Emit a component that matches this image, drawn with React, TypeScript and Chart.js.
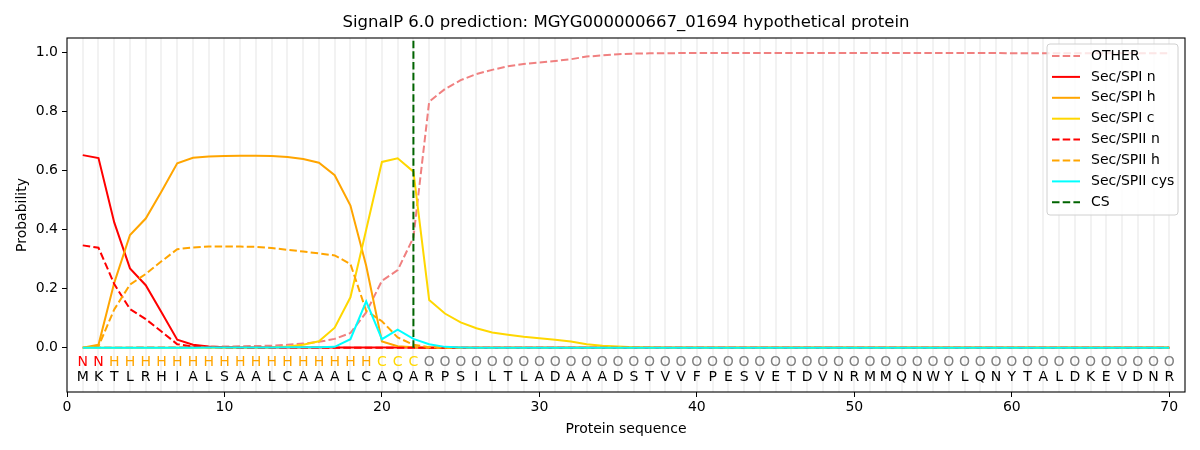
import { useEffect, useRef } from 'react';
import { Chart, registerables } from 'chart.js';

Chart.register(...registerables);

const FONT = '"DejaVu Sans", sans-serif';

const sequence = 'MKTLRHIALSAALCAAALCAQARPSILTLADAAADSTVVFPESVETDVNRMMQNWYLQNYTALDKEVDNR'.split('');
const regionLabels = 'NNHHHHHHHHHHHHHHHHHCCCOOOOOOOOOOOOOOOOOOOOOOOOOOOOOOOOOOOOOOOOOOOOOOOO'.split('');
const positions = sequence.map((_, i) => i + 1);
const xTicks = [0, 10, 20, 30, 40, 50, 60, 70];
const yTicks = [0, 0.2, 0.4, 0.6, 0.8, 1.0];
const cleavageSite = 22;

const otherProb = [
  0.001, 0.001, 0.001, 0.001, 0.002, 0.002, 0.002, 0.003, 0.003, 0.004,
  0.005, 0.006, 0.007, 0.01, 0.014, 0.02, 0.03, 0.05, 0.12, 0.227,
  0.263, 0.374, 0.834, 0.877, 0.907, 0.928, 0.942, 0.954, 0.962, 0.967,
  0.972, 0.978, 0.987, 0.991, 0.995, 0.997, 0.998, 0.998, 0.999, 0.999,
  0.999, 0.999, 0.999, 0.999, 0.999, 0.999, 0.999, 0.999, 0.999, 0.999,
  0.999, 0.999, 0.999, 0.999, 0.999, 0.999, 0.999, 0.999, 0.999, 0.998,
  0.998, 0.998, 0.998, 0.998, 0.998, 0.998, 0.998, 0.998, 0.998, 0.998,
];
const spiN = [
  0.653, 0.643, 0.425, 0.269, 0.212, 0.12, 0.027, 0.01, 0.004, 0.002,
  0.001, 0.001, 0.001, 0.001, 0.001, 0.001, 0.001, 0.001, 0.001, 0.001,
  0.001, 0.001, 0, 0, 0, 0, 0, 0, 0, 0,
  0, 0, 0, 0, 0, 0, 0, 0, 0, 0,
  0, 0, 0, 0, 0, 0, 0, 0, 0, 0,
  0, 0, 0, 0, 0, 0, 0, 0, 0, 0,
  0, 0, 0, 0, 0, 0, 0, 0, 0, 0,
];
const spiH = [
  0, 0.01, 0.22, 0.382, 0.438, 0.53, 0.625, 0.644, 0.648, 0.65,
  0.651, 0.651, 0.65, 0.647, 0.64, 0.627, 0.585, 0.482, 0.278, 0.021,
  0.005, 0.002, 0.001, 0, 0, 0, 0, 0, 0, 0,
  0, 0, 0, 0, 0, 0, 0, 0, 0, 0,
  0, 0, 0, 0, 0, 0, 0, 0, 0, 0,
  0, 0, 0, 0, 0, 0, 0, 0, 0, 0,
  0, 0, 0, 0, 0, 0, 0, 0, 0, 0,
];
const spiC = [
  0, 0, 0, 0, 0, 0, 0, 0, 0, 0,
  0, 0, 0.001, 0.004, 0.01, 0.022, 0.068, 0.171, 0.4, 0.63,
  0.642, 0.597, 0.162, 0.116, 0.086, 0.066, 0.052, 0.044, 0.037, 0.032,
  0.027, 0.021, 0.012, 0.007, 0.004, 0.002, 0.001, 0, 0, 0,
  0, 0, 0, 0, 0, 0, 0, 0, 0, 0,
  0, 0, 0, 0, 0, 0, 0, 0, 0, 0,
  0, 0, 0, 0, 0, 0, 0, 0, 0, 0,
];
const spiiN = [
  0.347, 0.339, 0.216, 0.131, 0.097, 0.055, 0.012, 0.004, 0.002, 0.001,
  0, 0, 0, 0, 0, 0, 0, 0, 0, 0,
  0, 0, 0, 0, 0, 0, 0, 0, 0, 0,
  0, 0, 0, 0, 0, 0, 0, 0, 0, 0,
  0, 0, 0, 0, 0, 0, 0, 0, 0, 0,
  0, 0, 0, 0, 0, 0, 0, 0, 0, 0,
  0, 0, 0, 0, 0, 0, 0, 0, 0, 0,
];
const spiiH = [
  0, 0.005, 0.13, 0.214, 0.25, 0.293, 0.334, 0.34, 0.343, 0.343,
  0.343, 0.342, 0.338, 0.332, 0.326, 0.32, 0.313, 0.284, 0.125, 0.09,
  0.035, 0.01, 0.002, 0, 0, 0, 0, 0, 0, 0,
  0, 0, 0, 0, 0, 0, 0, 0, 0, 0,
  0, 0, 0, 0, 0, 0, 0, 0, 0, 0,
  0, 0, 0, 0, 0, 0, 0, 0, 0, 0,
  0, 0, 0, 0, 0, 0, 0, 0, 0, 0,
];
const spiiCys = [
  0, 0, 0, 0, 0, 0, 0, 0, 0.001, 0.001,
  0.001, 0.001, 0.001, 0.002, 0.002, 0.002, 0.003, 0.029, 0.157, 0.029,
  0.061, 0.03, 0.012, 0.003, 0.001, 0, 0, 0, 0, 0,
  0, 0, 0, 0, 0, 0, 0, 0, 0, 0,
  0, 0, 0, 0, 0, 0, 0, 0, 0, 0,
  0, 0, 0, 0, 0, 0, 0, 0, 0, 0,
  0, 0, 0, 0, 0, 0, 0, 0, 0, 0,
];

const DASH = [7.5, 3.2];

const seriesDefs = [
  { label: 'OTHER', values: otherProb, color: '#f08080', dash: DASH },
  { label: 'Sec/SPI n', values: spiN, color: '#ff0000', dash: [] },
  { label: 'Sec/SPI h', values: spiH, color: '#ffa500', dash: [] },
  { label: 'Sec/SPI c', values: spiC, color: '#ffd700', dash: [] },
  { label: 'Sec/SPII n', values: spiiN, color: '#ff0000', dash: DASH },
  { label: 'Sec/SPII h', values: spiiH, color: '#ffa500', dash: DASH },
  { label: 'Sec/SPII cys', values: spiiCys, color: '#00ffff', dash: [] },
];

const labelColors: Record<string, string> = {
  N: '#ff0000',
  H: '#ffa500',
  C: '#ffd700',
  O: '#808080',
};

// background stripes, sequence letters, frame, title and legend (matplotlib look)
const decorPlugin = {
  id: 'decor',
  beforeDatasetsDraw(chart: any) {
    const { ctx, chartArea, scales } = chart;
    ctx.save();
    ctx.strokeStyle = '#f2f2f2';
    ctx.lineWidth = 2;
    positions.forEach((p) => {
      const x = Math.round(scales.x.getPixelForValue(p));
      ctx.beginPath();
      ctx.moveTo(x, chartArea.top);
      ctx.lineTo(x, chartArea.bottom);
      ctx.stroke();
    });
    ctx.restore();
  },
  afterDatasetsDraw(chart: any) {
    const { ctx, chartArea, scales } = chart;
    ctx.save();
    ctx.font = `14px ${FONT}`;
    ctx.textAlign = 'center';
    ctx.textBaseline = 'middle';
    const yLab = scales.y.getPixelForValue(-0.05);
    const yAa = scales.y.getPixelForValue(-0.1);
    positions.forEach((p, i) => {
      const x = scales.x.getPixelForValue(p);
      ctx.fillStyle = labelColors[regionLabels[i]];
      ctx.fillText(regionLabels[i], x, yLab);
      ctx.fillStyle = '#000';
      ctx.fillText(sequence[i], x, yAa);
    });

    // frame
    ctx.strokeStyle = '#000';
    ctx.lineWidth = 1.1;
    ctx.strokeRect(chartArea.left, chartArea.top, chartArea.right - chartArea.left, chartArea.bottom - chartArea.top);

    // title
    ctx.fillStyle = '#000';
    ctx.font = `16.5px ${FONT}`;
    ctx.fillText('SignalP 6.0 prediction: MGYG000000667_01694 hypothetical protein', (chartArea.left + chartArea.right) / 2, 23);

    // legend
    const bx = 1047, by = 44, bw = 131, bh = 171;
    ctx.beginPath();
    ctx.roundRect(bx, by, bw, bh, 3);
    ctx.fillStyle = 'rgba(255,255,255,0.8)';
    ctx.fill();
    ctx.strokeStyle = '#d0d0d0';
    ctx.lineWidth = 1;
    ctx.stroke();
    const entries = [
      ...seriesDefs.map((s) => ({ label: s.label, color: s.color, dash: s.dash })),
      { label: 'CS', color: '#006400', dash: DASH },
    ];
    ctx.font = `14px ${FONT}`;
    ctx.textAlign = 'left';
    entries.forEach((e, i) => {
      const y = 56 + i * 20.9;
      ctx.strokeStyle = e.color;
      ctx.lineWidth = 2;
      ctx.setLineDash(e.dash);
      ctx.beginPath();
      ctx.moveTo(1052, y);
      ctx.lineTo(1080, y);
      ctx.stroke();
      ctx.setLineDash([]);
      ctx.fillStyle = '#000';
      ctx.fillText(e.label, 1091, y);
    });
    ctx.restore();
  },
};

export default function App() {
  const canvasRef = useRef<HTMLCanvasElement>(null);

  useEffect(() => {
    if (!canvasRef.current) return;

    const datasets: any[] = seriesDefs.map((s, i) => ({
      label: s.label,
      data: positions.map((p, j) => ({ x: p, y: s.values[j] })),
      borderColor: s.color,
      borderDash: s.dash,
      borderWidth: 2,
      pointRadius: 0,
      fill: false,
      order: 20 - i,
    }));
    datasets.push({
      label: 'CS',
      data: [
        { x: cleavageSite, y: 0 },
        { x: cleavageSite, y: 1.05 },
      ],
      borderColor: '#006400',
      borderDash: DASH,
      borderWidth: 2,
      pointRadius: 0,
      fill: false,
      order: 1,
    });

    const chart = new Chart(canvasRef.current, {
      type: 'line',
      data: { datasets },
      options: {
        responsive: false,
        animation: false,
        layout: { padding: { top: 38, right: 15, left: 0, bottom: 0 } },
        plugins: {
          legend: { display: false },
          title: { display: false },
          tooltip: { enabled: false },
        },
        scales: {
          x: {
            type: 'linear',
            min: 0,
            max: 71,
            afterBuildTicks: (scale: any) => {
              scale.ticks = xTicks.map((v) => ({ value: v }));
            },
            afterFit: (scale: any) => {
              scale.height = 58;
            },
            grid: { drawOnChartArea: false, drawTicks: true, tickLength: 5, color: '#000' },
            border: { display: false },
            ticks: { color: '#000', font: { family: FONT, size: 14 }, padding: 2, maxRotation: 0 },
            title: {
              display: true,
              text: 'Protein sequence',
              color: '#000',
              font: { family: FONT, size: 14 },
              padding: { top: 0, bottom: 12 },
            },
          },
          y: {
            type: 'linear',
            min: -0.15,
            max: 1.05,
            afterBuildTicks: (scale: any) => {
              scale.ticks = yTicks.map((v) => ({ value: v }));
            },
            afterFit: (scale: any) => {
              scale.width = 67;
            },
            grid: { drawOnChartArea: false, drawTicks: true, tickLength: 5, color: '#000' },
            border: { display: false },
            ticks: {
              color: '#000',
              font: { family: FONT, size: 14 },
              padding: 4,
              callback: (v: any) => Number(v).toFixed(1),
            },
            title: {
              display: true,
              text: 'Probability',
              color: '#000',
              font: { family: FONT, size: 14 },
              padding: { top: 14, bottom: 0 },
            },
          },
        },
      },
      plugins: [decorPlugin],
    });

    return () => {
      chart.destroy();
    };
  }, []);

  return (
    <div style={{ position: 'fixed', left: 0, top: 0, width: 1200, height: 450, background: '#fff' }}>
      <canvas ref={canvasRef} width={1200} height={450} />
    </div>
  );
}
